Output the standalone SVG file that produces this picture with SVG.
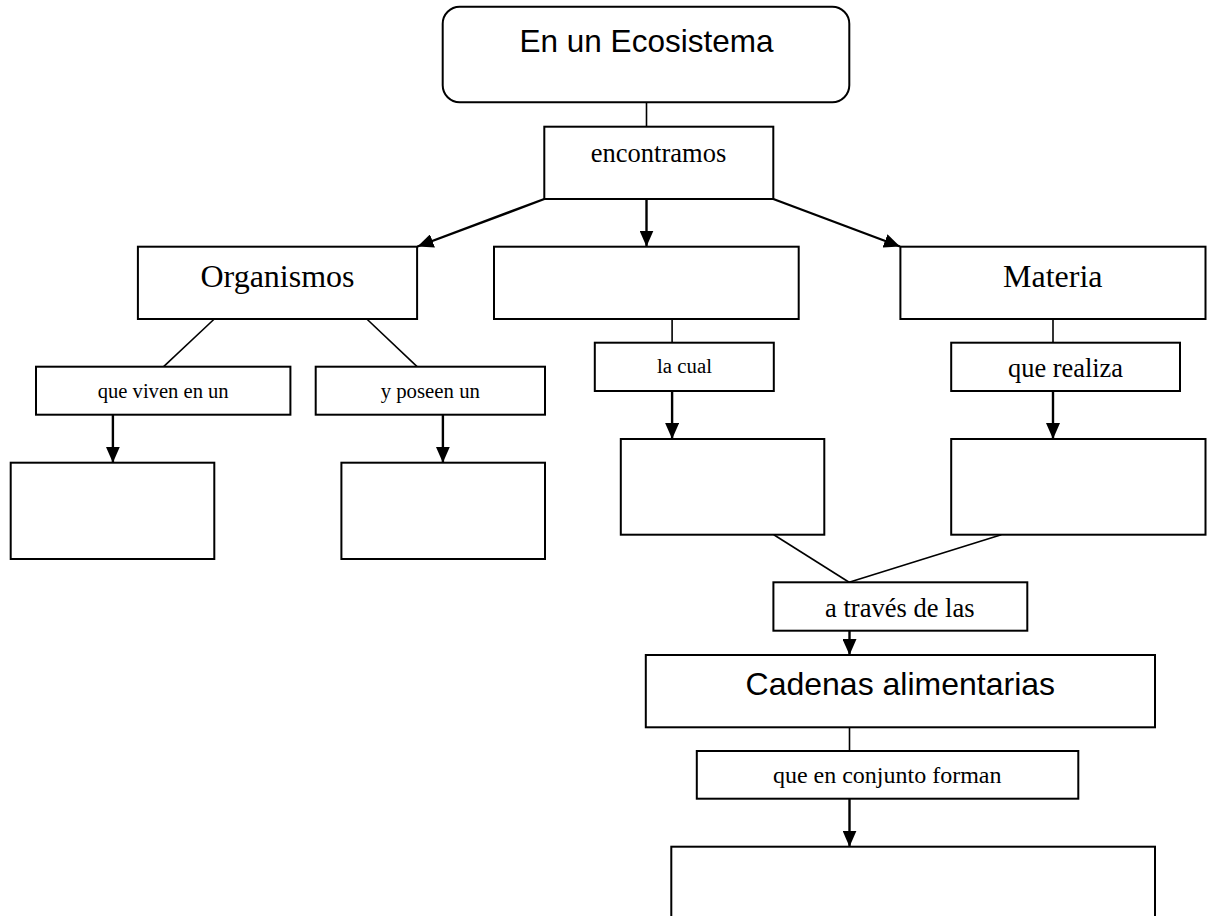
<svg xmlns="http://www.w3.org/2000/svg" width="1208" height="916" viewBox="0 0 1208 916">
<defs>
<marker id="ah" viewBox="0 0 16 14" refX="16" refY="7" markerWidth="16" markerHeight="14" markerUnits="userSpaceOnUse" orient="auto">
<path d="M0,0 L16,7 L0,14 z" fill="#000"/>
</marker>
<style>
.box{fill:#fff;stroke:#000;stroke-width:2}
.serif{font-family:"Liberation Serif","Times New Roman",serif;fill:#000;text-anchor:middle}
.sans{font-family:"Liberation Sans",Arial,sans-serif;fill:#000;text-anchor:middle}
.ln{stroke:#000;stroke-width:1.6;fill:none}
.ar{stroke:#000;stroke-width:2.4;fill:none;marker-end:url(#ah)}
</style>
</defs>
<rect width="1208" height="916" fill="#fff"/>
<g id="connectors">
<line class="ln" x1="646.5" y1="102.3" x2="646.5" y2="126.7"/>
<line class="ar" x1="544.3" y1="199" x2="417.5" y2="246.5"/>
<line class="ar" x1="646.5" y1="199" x2="646.5" y2="246.5"/>
<line class="ar" x1="773.3" y1="199" x2="900" y2="246.5"/>
<line class="ln" x1="214.3" y1="319" x2="163.6" y2="366.7"/>
<line class="ln" x1="366.8" y1="319" x2="417.1" y2="366.7"/>
<line class="ar" x1="112.9" y1="414.7" x2="112.9" y2="462.7"/>
<line class="ar" x1="442.9" y1="414.7" x2="442.9" y2="462.7"/>
<line class="ln" x1="672.1" y1="319" x2="672.1" y2="342.7"/>
<line class="ar" x1="672.1" y1="391" x2="672.1" y2="439"/>
<line class="ln" x1="1053" y1="319" x2="1053" y2="342.7"/>
<line class="ar" x1="1053" y1="391" x2="1053" y2="439"/>
<line class="ln" x1="773.8" y1="534.7" x2="849.1" y2="582.3"/>
<line class="ln" x1="1001.3" y1="534.7" x2="849.1" y2="582.3"/>
<line class="ar" x1="849.5" y1="630.7" x2="849.5" y2="655"/>
<line class="ln" x1="849.5" y1="727.3" x2="849.5" y2="751"/>
<line class="ar" x1="849.5" y1="798.7" x2="849.5" y2="846.7"/>
</g>
<g id="ecosistema">
<rect class="box" x="442.7" y="6.7" width="406.6" height="95.6" rx="17" ry="17"/>
<text class="sans" x="646.5" y="51.7" font-size="31.5">En un Ecosistema</text>
</g>
<g id="encontramos">
<rect class="box" x="544.3" y="126.7" width="229" height="72.3"/>
<text class="serif" x="658.5" y="161.7" font-size="26.5">encontramos</text>
</g>
<g id="organismos">
<rect class="box" x="137.9" y="246.7" width="279.2" height="72.3"/>
<text class="serif" x="277.5" y="286.7" font-size="32">Organismos</text>
</g>
<g id="centro">
<rect class="box" x="494" y="246.7" width="304.7" height="72.3"/>
</g>
<g id="materia">
<rect class="box" x="900.4" y="246.7" width="305.1" height="72.3"/>
<text class="serif" x="1052.8" y="286.7" font-size="32">Materia</text>
</g>
<g id="que-viven">
<rect class="box" x="36" y="366.7" width="254.4" height="48"/>
<text class="serif" x="163.2" y="397.7" font-size="20.6">que viven en un</text>
</g>
<g id="y-poseen">
<rect class="box" x="315.7" y="366.7" width="229.3" height="48"/>
<text class="serif" x="430.3" y="397.7" font-size="20.8">y poseen un</text>
</g>
<g id="caja-habitat">
<rect class="box" x="10.7" y="462.7" width="203.6" height="96.3"/>
</g>
<g id="caja-posee">
<rect class="box" x="341.4" y="462.7" width="203.6" height="96.3"/>
</g>
<g id="la-cual">
<rect class="box" x="594.8" y="342.7" width="179" height="48.3"/>
<text class="serif" x="684.5" y="373.3" font-size="20.8">la cual</text>
</g>
<g id="que-realiza">
<rect class="box" x="951.2" y="342.7" width="228.8" height="48.3"/>
<text class="serif" x="1065.5" y="376.7" font-size="26.4">que realiza</text>
</g>
<g id="caja-cual">
<rect class="box" x="620.8" y="439" width="203.5" height="95.7"/>
</g>
<g id="caja-realiza">
<rect class="box" x="951.2" y="439" width="254.3" height="95.7"/>
</g>
<g id="a-traves">
<rect class="box" x="773.4" y="582.3" width="253.9" height="48.4"/>
<text class="serif" x="899.8" y="616.7" font-size="26.5">a través de las</text>
</g>
<g id="cadenas">
<rect class="box" x="645.8" y="655" width="509.2" height="72.3"/>
<text class="sans" x="900.3" y="695" font-size="32">Cadenas alimentarias</text>
</g>
<g id="que-en-conjunto">
<rect class="box" x="696.8" y="751" width="381.5" height="47.7"/>
<text class="serif" x="887.2" y="783.3" font-size="24">que en conjunto forman</text>
</g>
<g id="caja-final">
<rect class="box" x="671.3" y="846.7" width="483.7" height="100"/>
</g>
</svg>
